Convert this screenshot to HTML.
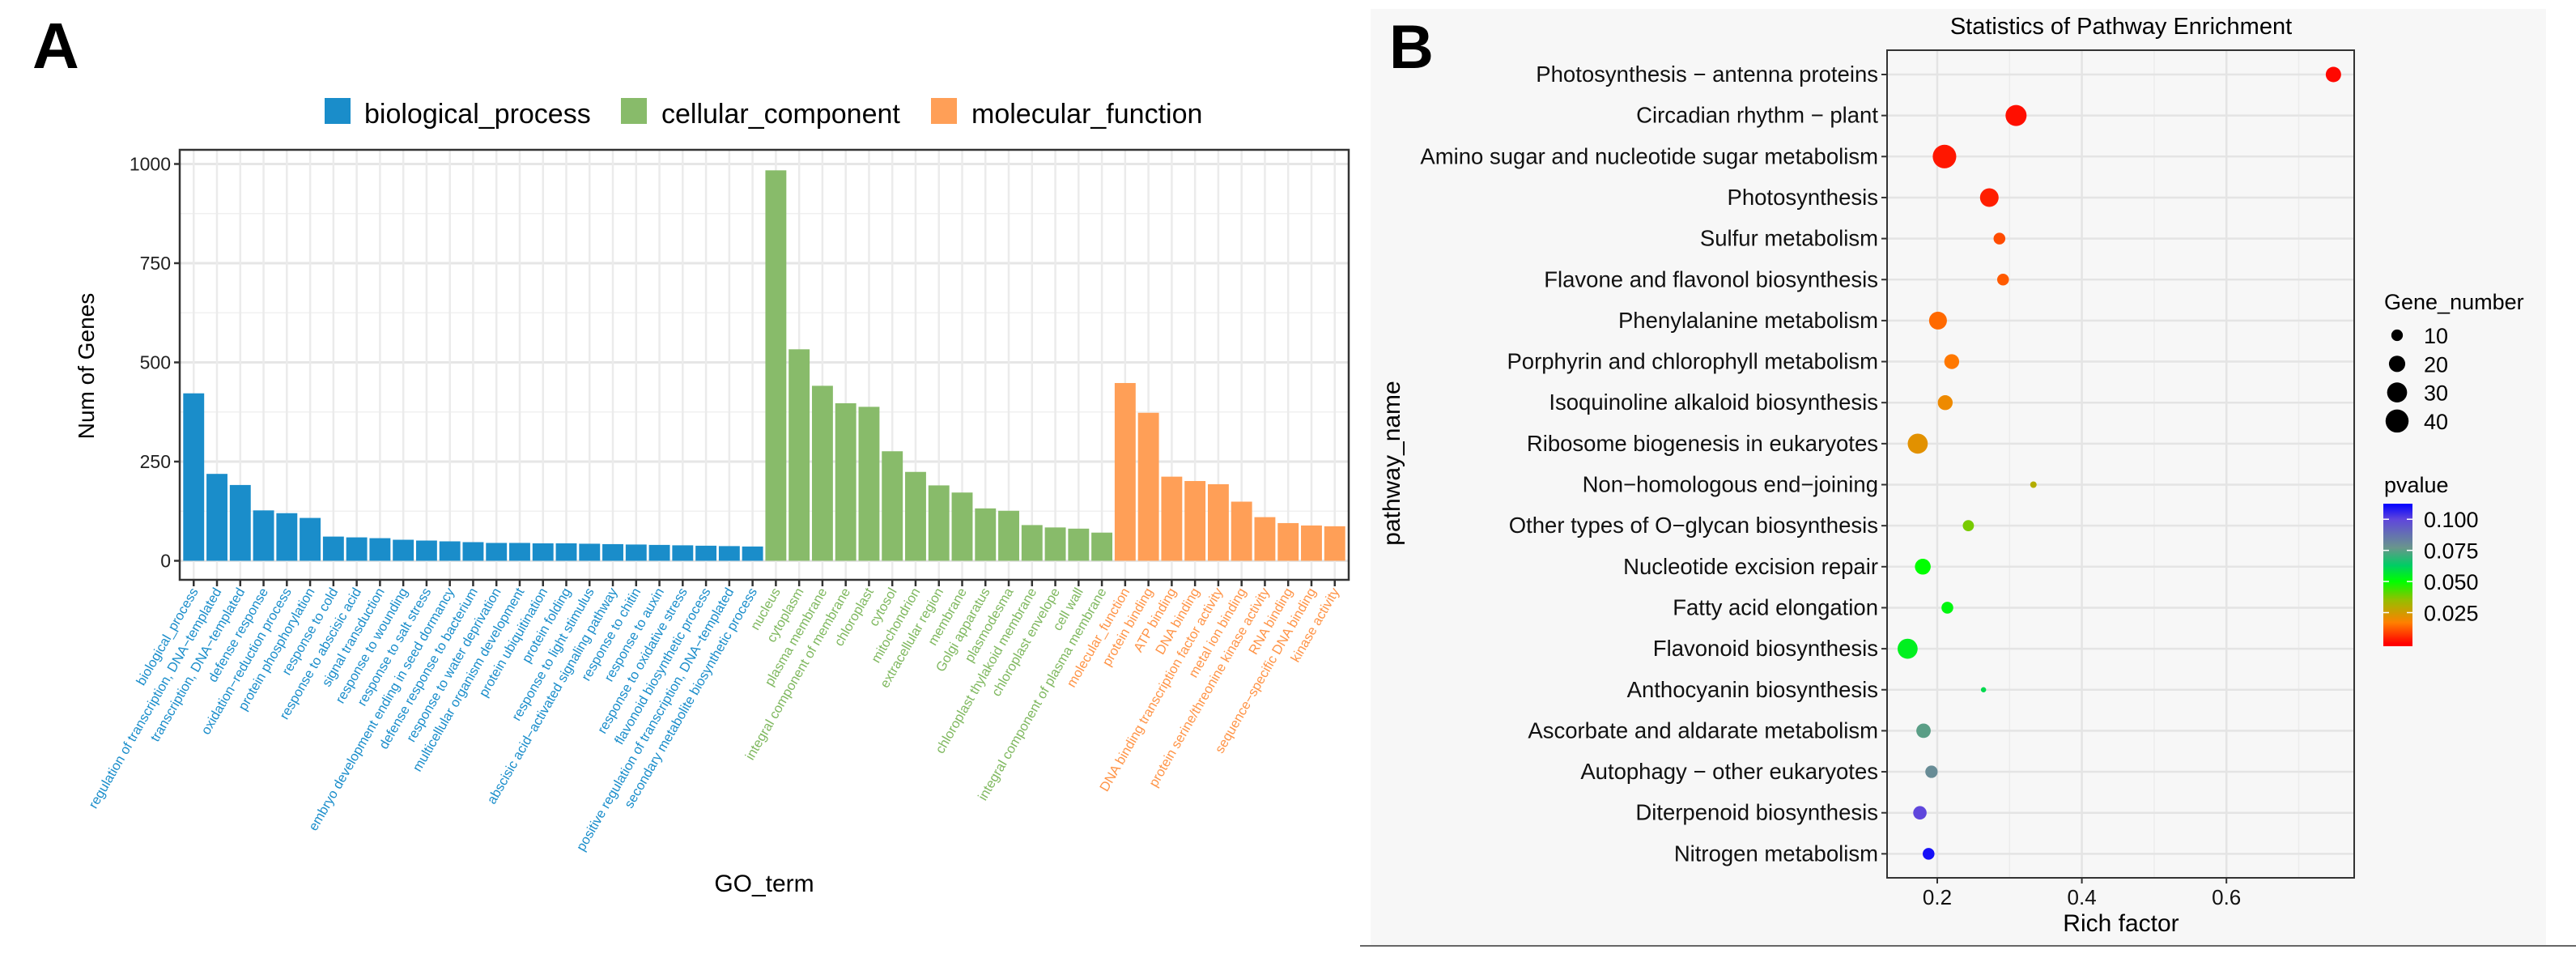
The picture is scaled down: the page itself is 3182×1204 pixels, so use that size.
<!DOCTYPE html>
<html><head><meta charset="utf-8">
<style>
html,body{margin:0;padding:0;background:#fff;}
svg{display:block;font-family:"Liberation Sans",Arial,sans-serif;}
</style></head>
<body>
<svg id="fig" width="3182" height="1204" viewBox="0 0 3182 1204" xmlns="http://www.w3.org/2000/svg">
  <rect x="0" y="0" width="3182" height="1204" fill="#ffffff"/>
  <g id="panelA">
    <text x="40" y="84" font-size="80" font-weight="bold">A</text>
    <g id="legendA"></g>
    <g id="gridA"></g>
    <g id="barsA"></g>
    <g id="axesA"></g>
    <text x="0" y="0" transform="translate(116,452) rotate(-90)" text-anchor="middle" font-size="28">Num of Genes</text>
    <text x="944" y="1101" text-anchor="middle" font-size="30">GO_term</text>
  </g>
  <g id="panelB">
    <rect x="1693" y="11" width="1452" height="1157" fill="#f7f7f7"/>
    <line x1="1680" y1="1168" x2="3182" y2="1168" stroke="#666" stroke-width="2"/>
    <text x="1716" y="84" font-size="76" font-weight="bold">B</text>
    <text x="2620" y="42" text-anchor="middle" font-size="29">Statistics of Pathway Enrichment</text>
    <g id="gridB"></g>
    <g id="dotsB"></g>
    <g id="axesB"></g>
    <text x="0" y="0" transform="translate(1729,572) rotate(-90)" text-anchor="middle" font-size="30">pathway_name</text>
    <text x="2620" y="1150" text-anchor="middle" font-size="30">Rich factor</text>
    <g id="legendB"></g>
  </g>
</svg>
<script>
// ---------- Panel A data ----------
const goTerms = ["biological_process","regulation of transcription, DNA\u2212templated","transcription, DNA\u2212templated","defense response","oxidation\u2212reduction process","protein phosphorylation","response to cold","response to abscisic acid","signal transduction","response to wounding","response to salt stress","embryo development ending in seed dormancy","defense response to bacterium","response to water deprivation","multicellular organism development","protein ubiquitination","protein folding","response to light stimulus","abscisic acid\u2212activated signaling pathway","response to chitin","response to auxin","response to oxidative stress","flavonoid biosynthetic process","positive regulation of transcription, DNA\u2212templated","secondary metabolite biosynthetic process",
"nucleus","cytoplasm","plasma membrane","integral component of membrane","chloroplast","cytosol","mitochondrion","extracellular region","membrane","Golgi apparatus","plasmodesma","chloroplast thylakoid membrane","chloroplast envelope","cell wall","integral component of plasma membrane",
"molecular_function","protein binding","ATP binding","DNA binding","DNA binding transcription factor activity","metal ion binding","protein serine/threonine kinase activity","RNA binding","sequence\u2212specific DNA binding","kinase activity"];
const goCounts = [422,219,191,127,120,108,61,59,57,53,51,49,47,45,45,44,44,43,42,41,40,39,38,37,36,
984,533,441,397,388,276,224,190,172,132,126,90,84,81,71,
448,373,212,201,193,149,110,95,89,87];
const goCategory = ["BP","BP","BP","BP","BP","BP","BP","BP","BP","BP","BP","BP","BP","BP","BP","BP","BP","BP","BP","BP","BP","BP","BP","BP","BP",
"CC","CC","CC","CC","CC","CC","CC","CC","CC","CC","CC","CC","CC","CC","CC",
"MF","MF","MF","MF","MF","MF","MF","MF","MF","MF"];
const legendNames = ["biological_process","cellular_component","molecular_function"];
const yTicksA = [0,250,500,750,1000];

// ---------- Panel B data ----------
const pathways = ["Photosynthesis \u2212 antenna proteins","Circadian rhythm \u2212 plant","Amino sugar and nucleotide sugar metabolism","Photosynthesis","Sulfur metabolism","Flavone and flavonol biosynthesis","Phenylalanine metabolism","Porphyrin and chlorophyll metabolism","Isoquinoline alkaloid biosynthesis","Ribosome biogenesis in eukaryotes","Non\u2212homologous end\u2212joining","Other types of O\u2212glycan biosynthesis","Nucleotide excision repair","Fatty acid elongation","Flavonoid biosynthesis","Anthocyanin biosynthesis","Ascorbate and aldarate metabolism","Autophagy \u2212 other eukaryotes","Diterpenoid biosynthesis","Nitrogen metabolism"];
const richFactor = [0.748,0.309,0.210,0.272,0.286,0.291,0.201,0.220,0.211,0.173,0.333,0.243,0.180,0.214,0.159,0.264,0.181,0.192,0.176,0.188];
const geneNumber = [17,32,40,25,10,10,23,16,16,29,3,9,18,10,29,2,15,11,13,10];
const pValue = [0.001,0.002,0.003,0.004,0.010,0.012,0.014,0.016,0.020,0.022,0.030,0.038,0.050,0.052,0.054,0.060,0.075,0.080,0.100,0.110];
const xTicksB = [0.2,0.4,0.6];
const sizeBreaks = [10,20,30,40];
const pBreaks = [0.025,0.050,0.075,0.100];

const NS = "http://www.w3.org/2000/svg";
function mk(tag, parent, attrs){ const e=document.createElementNS(NS,tag); for(const k in attrs) e.setAttribute(k,attrs[k]); parent.appendChild(e); return e; }

// ---------- Panel A ----------
const catColor = {BP:"#1a8dca", CC:"#88bb6a", MF:"#ff9f57"};
const catText = {BP:"#1a8dca", CC:"#7fb85f", MF:"#ff9447"};
const A = {left:222, right:1666, top:185, bottom:716, y0:692.5, y1000:202.5};
const nA = goTerms.length;
const band = (A.right-A.left)/(nA-1+1.2);
function xA(i){ return A.left + (0.6+i)*band; }
function yA(v){ return A.y0 + (A.y1000-A.y0)*v/1000; }

const gridA = document.getElementById('gridA');
mk('rect',gridA,{x:A.left,y:A.top,width:A.right-A.left,height:A.bottom-A.top,fill:'#fff'});
for(let t=0;t<yTicksA.length-1;t++){
  const mv=(yTicksA[t]+yTicksA[t+1])/2;
  const l=mk('line',gridA,{x1:A.left,x2:A.right,y1:yA(mv),y2:yA(mv),stroke:'#f0f0f0','stroke-width':1.5});
  
  
}
yTicksA.forEach(v=>{
  const l=mk('line',gridA,{x1:A.left,x2:A.right,y1:yA(v),y2:yA(v),stroke:'#e6e6e6','stroke-width':3});
  
  
});
for(let i=0;i<nA;i++){
  const l=mk('line',gridA,{x1:xA(i),x2:xA(i),y1:A.top,y2:A.bottom,stroke:'#ebebeb','stroke-width':2.5});
  
  
}
const barsA = document.getElementById('barsA');
for(let i=0;i<nA;i++){
  const w=band*0.9;
  const r=mk('rect',barsA,{x:xA(i)-w/2,y:yA(goCounts[i]),width:w,height:yA(0)-yA(goCounts[i]),fill:catColor[goCategory[i]]});
  
  
}
const axesA = document.getElementById('axesA');
const frame=mk('rect',axesA,{x:A.left,y:A.top,width:A.right-A.left,height:A.bottom-A.top,fill:'none',stroke:'#333','stroke-width':2.5});


yTicksA.forEach(v=>{
  mk('line',axesA,{x1:A.left-7,x2:A.left,y1:yA(v),y2:yA(v),stroke:'#333','stroke-width':2.5});
  const t=mk('text',axesA,{x:A.left-11,y:yA(v)+8,'text-anchor':'end','font-size':23,fill:'#222'});
  t.textContent=v;
  
  
});
for(let i=0;i<nA;i++){
  mk('line',axesA,{x1:xA(i),x2:xA(i),y1:A.bottom,y2:A.bottom+8,stroke:'#333','stroke-width':2.5});
  const t=mk('text',axesA,{x:0,y:0,'text-anchor':'end','font-size':16.5,fill:catText[goCategory[i]],transform:'translate('+(xA(i)+6)+','+(A.bottom+14)+') rotate(-60)'});
  t.textContent=goTerms[i];
  
  
}
const legendA = document.getElementById('legendA');
const legPos=[[401,450],[767,817],[1150,1200]];
const legCats=["BP","CC","MF"];
legendNames.forEach((n,k)=>{
  const r=mk('rect',legendA,{x:legPos[k][0],y:121,width:32,height:32,fill:catColor[legCats[k]]});
  
  
  const t=mk('text',legendA,{x:legPos[k][1],y:152,'font-size':34,fill:'#000'});
  t.textContent=n;
  
  
});

// ---------- Panel B ----------
const B = {left:2331, right:2908, top:62, bottom:1084, rowTop:92, rowStep:50.65};
function xB(v){ return 2393 + (v-0.2)*893; }
function yB(i){ return B.rowTop + i*B.rowStep; }
function rB(n){ return 2.3*Math.sqrt(n); }
const pStops=[[0,[255,0,0]],[0.017,[255,128,0]],[0.035,[150,190,0]],[0.05,[0,255,0]],[0.063,[0,205,100]],[0.077,[105,150,140]],[0.1,[95,70,220]],[0.113,[0,0,255]]];
function pCol(p){
  if(p<=pStops[0][0]) return 'rgb('+pStops[0][1].join(',')+')';
  for(let k=1;k<pStops.length;k++){
    if(p<=pStops[k][0]){
      const a=pStops[k-1],b=pStops[k],f=(p-a[0])/(b[0]-a[0]);
      return 'rgb('+a[1].map((c,j)=>Math.round(c+(b[1][j]-c)*f)).join(',')+')';
    }
  }
  return 'rgb(0,0,255)';
}
const gridB=document.getElementById('gridB');
mk('rect',gridB,{x:B.left,y:B.top,width:B.right-B.left,height:B.bottom-B.top,fill:'#f7f7f7'});
[0.3,0.5,0.7].forEach(v=>{
  const l=mk('line',gridB,{x1:xB(v),x2:xB(v),y1:B.top,y2:B.bottom,stroke:'#ececec','stroke-width':1.5});
  
  
});
xTicksB.forEach(v=>{
  const l=mk('line',gridB,{x1:xB(v),x2:xB(v),y1:B.top,y2:B.bottom,stroke:'#e4e4e4','stroke-width':2.5});
  
  
});
pathways.forEach((p,i)=>{
  const l=mk('line',gridB,{x1:B.left,x2:B.right,y1:yB(i),y2:yB(i),stroke:'#e4e4e4','stroke-width':2.5});
  
  
});
const dotsB=document.getElementById('dotsB');
pathways.forEach((p,i)=>{
  const c=mk('circle',dotsB,{cx:xB(richFactor[i]),cy:yB(i),r:rB(geneNumber[i]),fill:pCol(pValue[i])});
  
  
});
const axesB=document.getElementById('axesB');
const frB=mk('rect',axesB,{x:B.left,y:B.top,width:B.right-B.left,height:B.bottom-B.top,fill:'none',stroke:'#333','stroke-width':2});


pathways.forEach((p,i)=>{
  mk('line',axesB,{x1:B.left-7,x2:B.left,y1:yB(i),y2:yB(i),stroke:'#333','stroke-width':2});
  const t=mk('text',axesB,{x:B.left-11,y:yB(i)+9,'text-anchor':'end','font-size':27.5,fill:'#111'});
  t.textContent=p;
  
  
});
xTicksB.forEach(v=>{
  mk('line',axesB,{x1:xB(v),x2:xB(v),y1:B.bottom,y2:B.bottom+7,stroke:'#333','stroke-width':2});
  const t=mk('text',axesB,{x:xB(v),y:B.bottom+33,'text-anchor':'middle','font-size':26,fill:'#111'});
  t.textContent=v.toFixed(1);
  
  
});
const legendB=document.getElementById('legendB');
const lt=mk('text',legendB,{x:2945,y:382,'font-size':27,fill:'#000'});
lt.textContent='Gene_number';


sizeBreaks.forEach((n,k)=>{
  const y=414+k*35.3;
  const c=mk('circle',legendB,{cx:2961,cy:y,r:rB(n)*0.98,fill:'#000'});
  
  
  const t=mk('text',legendB,{x:2994,y:y+10,'font-size':27,fill:'#000'});
  t.textContent=n;
  
  
});
const pt=mk('text',legendB,{x:2945,y:608,'font-size':27,fill:'#000'});
pt.textContent='pvalue';


const defs=mk('defs',legendB,{});
const grad=mk('linearGradient',defs,{id:'pg',x1:0,y1:1,x2:0,y2:0});
const pMin=-0.002,pMax=0.1125, cbTop=622, cbBot=798;
pStops.forEach(s=>{ mk('stop',grad,{offset:Math.max(0,Math.min(1,(s[0]-pMin)/(pMax-pMin))),'stop-color':'rgb('+s[1].join(',')+')'}); });
const cb=mk('rect',legendB,{x:2944,y:cbTop,width:36,height:cbBot-cbTop,fill:'url(#pg)'});


function yCB(p){ return cbBot - (p-pMin)/(pMax-pMin)*(cbBot-cbTop); }
pBreaks.forEach(p=>{
  mk('line',legendB,{x1:2944,x2:2951,y1:yCB(p),y2:yCB(p),stroke:'#fff','stroke-width':1.5});
  mk('line',legendB,{x1:2973,x2:2980,y1:yCB(p),y2:yCB(p),stroke:'#fff','stroke-width':1.5});
  const t=mk('text',legendB,{x:2994,y:yCB(p)+10,'font-size':27,fill:'#000'});
  t.textContent=p.toFixed(3);
  
  
});
</script>
</body></html>
